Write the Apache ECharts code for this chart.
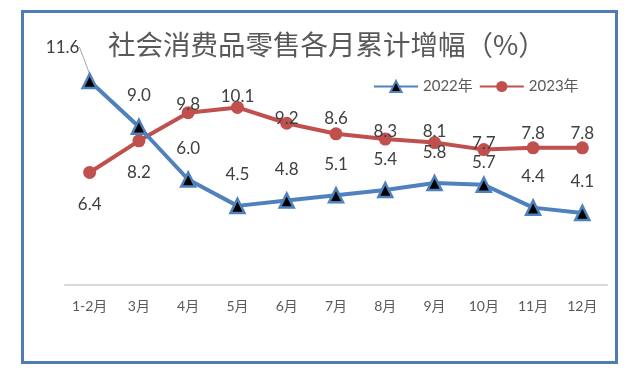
<!DOCTYPE html>
<html>
<head>
<meta charset="utf-8">
<script src="https://cdn.jsdelivr.net/npm/echarts@6/dist/echarts.min.js"></script>
<style>
html,body{margin:0;padding:0;background:#fff;}
#chart{width:628px;height:373px;}
</style>
</head>
<body>
<div id="chart"></div>
<script>
var categories = ['1-2月','3月','4月','5月','6月','7月','8月','9月','10月','11月','12月'];
var values2022 = [11.6, 9.0, 6.0, 4.5, 4.8, 5.1, 5.4, 5.8, 5.7, 4.4, 4.1];
var values2023 = [6.4, 8.2, 9.8, 10.1, 9.2, 8.6, 8.3, 8.1, 7.7, 7.8, 7.8];
var seriesNames = ['2022年', '2023年'];
var titleText = '社会消费品零售各月累计增幅（%）';

var FONT = "Lato, 'Noto Sans CJK SC', sans-serif";

// label displacements (style only)
var off2022 = {default: [0, -31], 0: [-27, -34], 8: [0, -22]};
var off2023 = {default: [0, -11], 0: [0, 32], 1: [0, 32], 2: [0, -8], 4: [0, -5], 5: [0, -15], 6: [0, -8], 8: [0, -6], 9: [0, -14], 10: [0, -14]};

function layoutFrom(offs) {
  return function (p) {
    var d = offs[p.dataIndex] || offs['default'];
    return {dx: d[0], dy: d[1]};
  };
}

var data2022 = values2022.map(function (v, i) {
  return i === 0 ? {value: v, labelLine: {show: true, lineStyle: {color: '#a6a6a6', width: 1}}} : v;
});

var chart = echarts.init(document.getElementById('chart'), null, {renderer: 'canvas'});
var labelStyle = {
  show: true, position: 'inside', fontSize: 17, color: '#404040', fontFamily: FONT,
  formatter: function (p) { return Number(p.value).toFixed(1); }
};

chart.setOption({
  animation: false,
  backgroundColor: '#fff',
  graphic: [{
    type: 'rect', left: 20, top: 9, z: -10,
    shape: {width: 594, height: 351},
    style: {fill: 'none', stroke: '#4F7CB4', lineWidth: 3}
  }],
  title: {
    text: titleText, left: 103, top: 26,
    textStyle: {fontSize: 27.5, fontWeight: 'normal', color: '#595959', fontFamily: "'Noto Sans CJK SC', sans-serif"}
  },
  legend: {
    left: 368, top: 74, itemWidth: 44, itemHeight: 14, itemGap: 6,
    textStyle: {fontSize: 15, color: '#595959', fontFamily: FONT},
    data: seriesNames
  },
  grid: {left: 65, right: 21, top: 74, bottom: 88},
  xAxis: {
    type: 'category', data: categories, boundaryGap: true,
    axisLine: {show: true, lineStyle: {color: '#d9d9d9', width: 2}},
    axisTick: {show: false},
    axisLabel: {fontSize: 14, color: '#595959', margin: 14, fontFamily: FONT, interval: 0}
  },
  yAxis: {
    type: 'value', min: 0, max: 12, show: false,
    splitLine: {show: false}
  },
  series: [{
    name: seriesNames[0], type: 'line', data: data2022,
    symbol: 'triangle', symbolSize: 14,
    lineStyle: {color: '#4F81BD', width: 4},
    itemStyle: {color: '#000', borderColor: '#4F81BD', borderWidth: 2.5},
    label: labelStyle,
    labelLayout: layoutFrom(off2022),
    z: 3
  }, {
    name: seriesNames[1], type: 'line', data: values2023,
    symbol: 'circle', symbolSize: 13,
    lineStyle: {color: '#C0504D', width: 4},
    itemStyle: {color: '#C0504D'},
    label: labelStyle,
    labelLayout: layoutFrom(off2023),
    z: 2
  }]
});
</script>
</body>
</html>
